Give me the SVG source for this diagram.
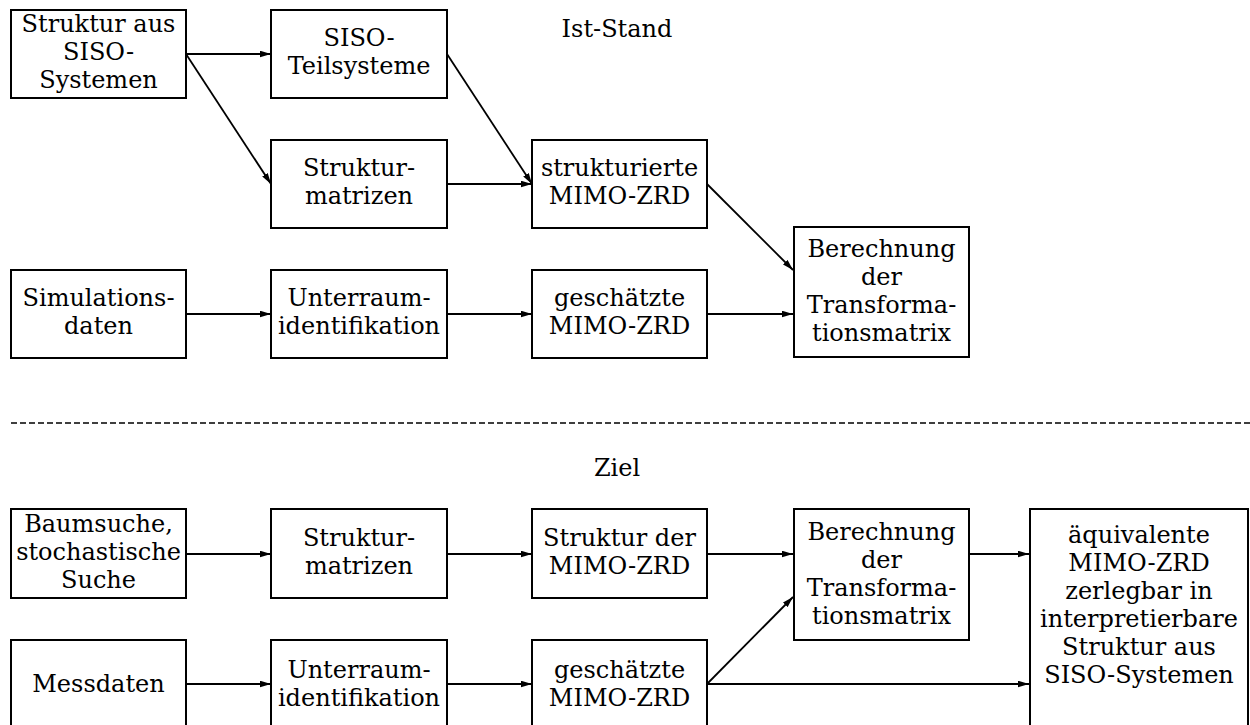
<svg xmlns="http://www.w3.org/2000/svg" width="1250" height="725" viewBox="0 0 1250 725">
<style>
.box{fill:#fff;stroke:#000;stroke-width:2}
.t{font-family:"DejaVu Serif","Liberation Serif",serif;font-size:24px;fill:#000;text-anchor:middle}
.c{fill:none;stroke:#000;stroke-width:1.8}
.d{fill:none;stroke:#000;stroke-width:1.6;stroke-dasharray:6 3}
</style>
<defs>
<marker id="ah" viewBox="0 0 10 6" refX="10" refY="3" markerWidth="11" markerHeight="7" markerUnits="userSpaceOnUse" orient="auto">
<path d="M0,0 L10,3 L0,6 Z" fill="#000"/>
</marker>
</defs>
<rect width="1250" height="725" fill="#fff"/>
<text class="t" x="617" y="37">Ist-Stand</text>
<text class="t" x="617" y="476">Ziel</text>
<line class="d" x1="11" y1="423" x2="1250" y2="423"/>
<g id="connectors">
<line class="c" x1="186" y1="54" x2="271" y2="54" marker-end="url(#ah)"/>
<line class="c" x1="186" y1="54" x2="271" y2="184" marker-end="url(#ah)"/>
<line class="c" x1="447" y1="54" x2="532" y2="184" marker-end="url(#ah)"/>
<line class="c" x1="447" y1="184" x2="532" y2="184" marker-end="url(#ah)"/>
<line class="c" x1="707" y1="184" x2="793" y2="270" marker-end="url(#ah)"/>
<line class="c" x1="186" y1="314" x2="271" y2="314" marker-end="url(#ah)"/>
<line class="c" x1="447" y1="314" x2="532" y2="314" marker-end="url(#ah)"/>
<line class="c" x1="707" y1="314" x2="793" y2="314" marker-end="url(#ah)"/>
<line class="c" x1="186" y1="554" x2="271" y2="554" marker-end="url(#ah)"/>
<line class="c" x1="447" y1="554" x2="532" y2="554" marker-end="url(#ah)"/>
<line class="c" x1="707" y1="554" x2="793" y2="554" marker-end="url(#ah)"/>
<line class="c" x1="969" y1="554" x2="1029" y2="554" marker-end="url(#ah)"/>
<line class="c" x1="186" y1="684" x2="271" y2="684" marker-end="url(#ah)"/>
<line class="c" x1="447" y1="684" x2="532" y2="684" marker-end="url(#ah)"/>
<line class="c" x1="707" y1="684" x2="793" y2="597" marker-end="url(#ah)"/>
<line class="c" x1="707" y1="684" x2="1029" y2="684" marker-end="url(#ah)"/>
</g>
<g id="n1"><rect class="box" x="11" y="10" width="175" height="88"/>
<text class="t" x="98.5" y="32">Struktur aus</text><text class="t" x="98.5" y="60">SISO-</text><text class="t" x="98.5" y="88">Systemen</text></g>
<g id="n2"><rect class="box" x="271" y="10" width="176" height="88"/>
<text class="t" x="359" y="46">SISO-</text><text class="t" x="359" y="74">Teilsysteme</text></g>
<g id="n3"><rect class="box" x="271" y="140" width="176" height="88"/>
<text class="t" x="359" y="176">Struktur-</text><text class="t" x="359" y="204">matrizen</text></g>
<g id="n4"><rect class="box" x="532" y="140" width="175" height="88"/>
<text class="t" x="619.5" y="176">strukturierte</text><text class="t" x="619.5" y="204">MIMO-ZRD</text></g>
<g id="n5"><rect class="box" x="794" y="227" width="175" height="130"/>
<text class="t" x="881.5" y="257">Berechnung</text><text class="t" x="881.5" y="285">der</text><text class="t" x="881.5" y="313">Transforma-</text><text class="t" x="881.5" y="341">tionsmatrix</text></g>
<g id="n6"><rect class="box" x="11" y="270" width="175" height="88"/>
<text class="t" x="98.5" y="306">Simulations-</text><text class="t" x="98.5" y="334">daten</text></g>
<g id="n7"><rect class="box" x="271" y="270" width="176" height="88"/>
<text class="t" x="359" y="306">Unterraum-</text><text class="t" x="359" y="334">identifikation</text></g>
<g id="n8"><rect class="box" x="532" y="270" width="175" height="88"/>
<text class="t" x="619.5" y="306">geschätzte</text><text class="t" x="619.5" y="334">MIMO-ZRD</text></g>
<g id="n9"><rect class="box" x="11" y="509" width="175" height="89"/>
<text class="t" x="98.5" y="532">Baumsuche,</text><text class="t" x="98.5" y="560">stochastische</text><text class="t" x="98.5" y="588">Suche</text></g>
<g id="n10"><rect class="box" x="271" y="509" width="176" height="89"/>
<text class="t" x="359" y="546">Struktur-</text><text class="t" x="359" y="574">matrizen</text></g>
<g id="n11"><rect class="box" x="532" y="509" width="175" height="89"/>
<text class="t" x="619.5" y="546">Struktur der</text><text class="t" x="619.5" y="574">MIMO-ZRD</text></g>
<g id="n12"><rect class="box" x="794" y="509" width="175" height="131"/>
<text class="t" x="881.5" y="540">Berechnung</text><text class="t" x="881.5" y="568">der</text><text class="t" x="881.5" y="596">Transforma-</text><text class="t" x="881.5" y="624">tionsmatrix</text></g>
<g id="n13"><rect class="box" x="1030" y="509" width="218" height="240"/>
<text class="t" x="1139" y="543">äquivalente</text><text class="t" x="1139" y="571">MIMO-ZRD</text><text class="t" x="1139" y="599">zerlegbar in</text><text class="t" x="1139" y="627">interpretierbare</text><text class="t" x="1139" y="655">Struktur aus</text><text class="t" x="1139" y="683">SISO-Systemen</text></g>
<g id="n14"><rect class="box" x="11" y="640" width="175" height="100"/>
<text class="t" x="98.5" y="692">Messdaten</text></g>
<g id="n15"><rect class="box" x="271" y="640" width="176" height="100"/>
<text class="t" x="359" y="678">Unterraum-</text><text class="t" x="359" y="706">identifikation</text></g>
<g id="n16"><rect class="box" x="532" y="640" width="175" height="100"/>
<text class="t" x="619.5" y="678">geschätzte</text><text class="t" x="619.5" y="706">MIMO-ZRD</text></g>
</svg>
